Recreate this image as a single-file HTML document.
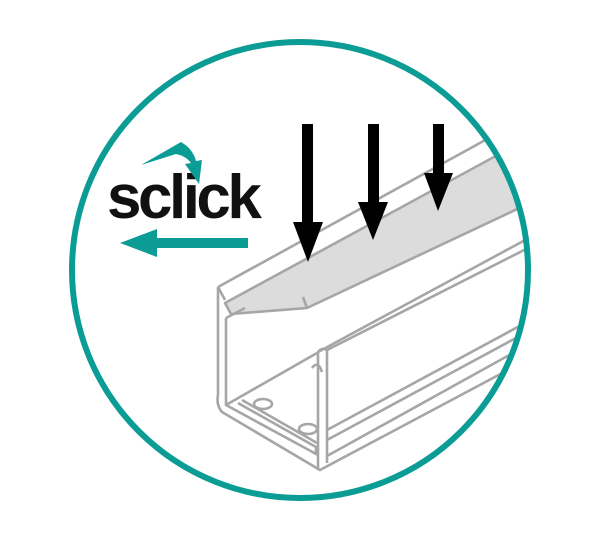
<!DOCTYPE html>
<html><head><style>html,body{margin:0;padding:0;background:#fff;width:601px;height:534px;overflow:hidden}</style></head>
<body>
<svg width="601" height="534" viewBox="0 0 601 534" xmlns="http://www.w3.org/2000/svg">
<defs><clipPath id="c"><circle cx="300" cy="270" r="228"/></clipPath></defs>
<g clip-path="url(#c)" fill="none" stroke="#a6a6a6" stroke-width="2.6" stroke-linejoin="round">
  <polygon points="225,303 540,132 545,196 307,308 231,314" fill="#dcdcdc"/>
  <line x1="303" y1="297" x2="307" y2="308"/>
  <line x1="218" y1="287" x2="540" y2="110"/>
  <path d="M218,287 L218,395 Q216,405 222,412 L320,470 L540,353"/>
  <path d="M218,287 L225,300"/>
  <path d="M226,318 L226,405 L318,455"/>
  <path d="M226,318 L245,308"/>
  <path d="M226,405 L317,353"/>
  <path d="M238,403 L316,447 L316,455"/>
  <path d="M242,400 L317,443"/>
  <ellipse cx="263" cy="404" rx="9" ry="5"/>
  <ellipse cx="308" cy="429" rx="9" ry="5"/>
  <path d="M318,470 L318,352 Q322,347 327,350 L327,463"/>
  <path d="M318,352 L540,232"/>
  <path d="M327,350 L540,242"/>
  <path d="M327,430 L540,315"/>
  <path d="M327,440 L540,325"/>
  <path d="M327,456 L540,338"/>
  <path d="M312,368 Q318,360 322,372"/>
</g>
<g fill="#000">
  <rect x="302" y="124" width="11" height="100"/>
  <polygon points="293,222 323,222 308,262"/>
  <rect x="368" y="124" width="11" height="80"/>
  <polygon points="358,202 388,202 373,240"/>
  <rect x="433" y="124" width="11" height="51"/>
  <polygon points="424,173 453,173 438,211"/>
</g>
<circle cx="300" cy="270" r="228" fill="none" stroke="#0b9d95" stroke-width="6"/>
<text x="107" y="218" font-family="Liberation Sans, sans-serif" font-weight="bold" font-size="62" letter-spacing="-3.5" fill="#111">sclick</text>
<path d="M141,165 L181,142 Q193,149 196,161 L202,160 L199,184 L185,164 L191,163 Q186,156 176,154 Z" fill="#0b9d95"/>
<rect x="150" y="238" width="98" height="10" fill="#0b9d95"/>
<polygon points="120,243 157,229 157,257" fill="#0b9d95"/>
</svg>
</body></html>
